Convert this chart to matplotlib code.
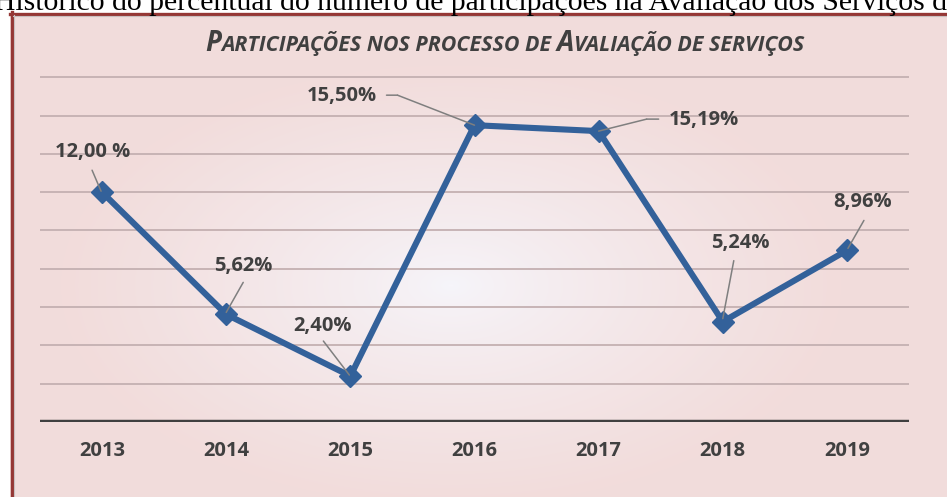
import numpy as np
import matplotlib.pyplot as plt
from matplotlib.lines import Line2D
from matplotlib.transforms import offset_copy

# dados do grafico
anos = ['2013', '2014', '2015', '2016', '2017', '2018', '2019']
valores = [12.00, 5.62, 2.40, 15.50, 15.19, 5.24, 8.96]
rotulos = ['12,00 %', '5,62%', '2,40%', '15,50%', '15,19%', '5,24%', '8,96%']

titulo = ['P', 'ARTICIPAÇÕES NOS PROCESSO DE', 'A', 'VALIAÇÃO DE SERVIÇOS']
cabecalho = 'Histórico do percentual do número de participações na Avaliação dos Serviços d'

# posicao dos rotulos (pixels, relativo ao ponto) e linhas de chamada
pos_rotulo = [(-9, 40), (17, 48), (-28, 50), (-133, 29), (105, 11), (18, 79), (16, 48)]
chamadas = [
    [(-10, 22), (-1, 1)],
    [(17, 32), (0, 2)],
    [(-27, 35), (-1, 1)],
    [(-88, 30), (-77, 30), (0, 0)],
    [(60, 12), (48, 12), (0, 0)],
    [(11, 61), (0, 3)],
    [(17, 30), (1, 2)],
]

W, H = 947, 497
fig = plt.figure(figsize=(W / 100, H / 100), dpi=100, facecolor='white')

# fundo rosa com gradiente claro no meio
bg = fig.add_axes([10 / W, 0, (W - 10) / W, (H - 13) / H])
bg.set_axis_off()
xx, yy = np.meshgrid(np.arange(10, W), np.arange(13, H))
r = np.sqrt(((xx - 450) / 390.0) ** 2 + ((yy - 285) / 220.0) ** 2)
t = np.clip(r, 0, 1)[..., None] ** 0.8
centro = np.array([0.965, 0.962, 0.982])
borda = np.array([0.949, 0.863, 0.859])
img = centro * (1 - t) + borda * t
bg.imshow(img, aspect='auto', extent=(0, 1, 0, 1), origin='upper')
bg.set_xlim(0, 1)
bg.set_ylim(0, 1)

# moldura vermelho escuro
fig.add_artist(Line2D([11.5 / W, 11.5 / W], [0, (H - 12) / H], color='#953735', lw=2.4))
fig.add_artist(Line2D([10 / W, 1], [(H - 13.5) / H, (H - 13.5) / H], color='#953735', lw=2.4))
fig.add_artist(Line2D([13.8 / W, 13.8 / W], [0, (H - 15) / H], color='#c8c0c0', lw=0.8))
fig.add_artist(Line2D([13 / W, 1], [(H - 15.5) / H, (H - 15.5) / H], color='#c8c0c0', lw=0.8))

# texto do documento cortado no topo
fig.text(-6 / W, (H - 10) / H, cabecalho, family='Liberation Serif', fontsize=21.3,
         va='baseline', ha='left', color='black')

ax = fig.add_axes([40 / W, (H - 422) / H, 869 / W, 383 / H])
ax.set_facecolor('none')
x = np.arange(len(anos))
ax.set_xlim(-0.5, len(anos) - 0.5)
ax.set_ylim(0, 20)

for g in range(2, 20, 2):
    ax.axhline(g, color='#c4b0b1', lw=1.3, zorder=1)
ax.axhline(0, color='#404040', lw=3.2, zorder=2)

ax.plot(x, valores, color='#33619a', lw=4.4, marker='D', ms=11, zorder=3,
        solid_joinstyle='miter')

for i in range(len(anos)):
    dx, dy = pos_rotulo[i]
    ax.annotate(rotulos[i], xy=(x[i], valores[i]), xytext=(dx, dy), textcoords='offset pixels',
                ha='center', va='center', family='Open Sans', weight='bold', fontsize=14.5,
                color='#404040', zorder=5)
    pts = chamadas[i]
    for p0, p1 in zip(pts[:-1], pts[1:]):
        tr = offset_copy(ax.transData, fig=fig, x=p1[0], y=p1[1], units='dots')
        ax.annotate('', xy=(x[i], valores[i]), xycoords=tr,
                    xytext=(p0[0] - p1[0], p0[1] - p1[1]), textcoords='offset pixels',
                    arrowprops=dict(arrowstyle='-', color='#7f7f7f', lw=1.1,
                                    shrinkA=0, shrinkB=0), zorder=4)

ax.set_xticks(x)
ax.set_xticklabels(anos, family='Open Sans', weight='bold', fontsize=14.5, color='#404040')
ax.tick_params(axis='x', length=0, pad=14)
ax.set_yticks([])
for s in ax.spines.values():
    s.set_visible(False)

# titulo em versalete: letras grandes e pequenas, ajustado a largura 205..808 px
fig.canvas.draw()
rend = fig.canvas.get_renderer()
y_tit = (H - 51) / H
escala = 1.0
for rodada in range(2):
    xpos = 205
    textos = []
    for k, parte in enumerate(titulo):
        tam = (14.5 if k % 2 == 0 else 11.2) * escala
        txt = fig.text(xpos / W, y_tit, parte, family='Open Sans', style='italic',
                       weight='bold', fontsize=tam, color='#404040', va='baseline', ha='left')
        bb = txt.get_window_extent(rend)
        xpos = bb.x1 + (4 * escala if k % 2 == 1 else 0)
        textos.append(txt)
    if rodada == 0:
        escala = 603.0 / (xpos - 205)
        for txt in textos:
            txt.remove()

fig.savefig('out.png', dpi=100)
